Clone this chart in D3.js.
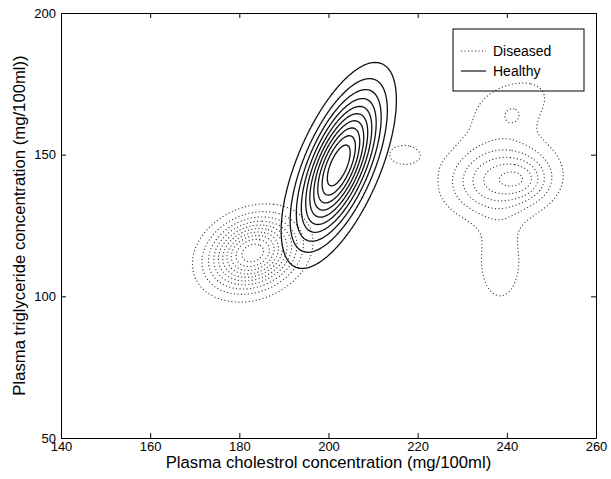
<!DOCTYPE html>
<html>
<head>
<meta charset="utf-8">
<script src="https://cdn.jsdelivr.net/npm/d3@7"></script>
<style>
  html, body { margin: 0; padding: 0; background: #fff; }
  svg { display: block; font-family: "Liberation Sans", Arial, Helvetica, sans-serif; }
</style>
</head>
<body>
<svg id="chart" width="611" height="479"></svg>
<script>
// Axis ranges and tick labels
const xDomain = [140, 260];
const yDomain = [50, 200];
const xTicks = [140, 160, 180, 200, 220, 240, 260];
const yTicks = [50, 100, 150, 200];

// Healthy class: a single correlated Gaussian density
const healthyMean = [202.3, 146.2];
const healthySd = [5.9, 16.6];
const healthyCorr = 0.635;
const healthyPeak = 11;

// Diseased class: Gaussian mixture components
const diseasedMeanX = [183.0, 238.5, 244.0, 241.0, 241.5, 238.5, 216.7];
const diseasedMeanY = [115.3, 141.5, 141.0, 167.5, 163.5, 112.0, 150.0];
const diseasedSdX   = [6.2, 7.5, 3.5, 8.5, 2.5, 4.0, 4.0];
const diseasedSdY   = [7.95, 8.5, 4.5, 9.0, 3.5, 11.5, 4.2];
const diseasedCorr  = [0.22, 0.1, 0.0, 0.35, 0.0, 0.0, 0.0];
const diseasedPeak  = [10.8, 5.5, 1.6, 1.45, 0.67, 1.7, 1.3];

// Density levels traced as contour lines
const contourLevels = [1, 2, 3, 4, 5, 6, 7, 8, 9, 10];

const legendLabels = ["Diseased", "Healthy"];

const svg = d3.select("#chart");
const x = d3.scaleLinear().domain(xDomain).range([61, 596]);
const y = d3.scaleLinear().domain(yDomain).range([438, 13]);

// Evaluate a bivariate Gaussian bump scaled to a given peak height
function bump(px, py, mx, my, sx, sy, r, peak) {
  const dx = (px - mx) / sx, dy = (py - my) / sy;
  const q = (dx * dx - 2 * r * dx * dy + dy * dy) / (1 - r * r);
  return peak * Math.exp(-0.5 * q);
}

const step = 0.5;
const nx = Math.round((xDomain[1] - xDomain[0]) / step) + 1;
const ny = Math.round((yDomain[1] - yDomain[0]) / step) + 1;

function grid(fn) {
  const v = new Float64Array(nx * ny);
  for (let j = 0; j < ny; j++) {
    const py = yDomain[0] + j * step;
    for (let i = 0; i < nx; i++) {
      v[i + j * nx] = fn(xDomain[0] + i * step, py);
    }
  }
  return v;
}

const healthyGrid = grid((px, py) =>
  bump(px, py, healthyMean[0], healthyMean[1], healthySd[0], healthySd[1], healthyCorr, healthyPeak));

const diseasedGrid = grid((px, py) => {
  let s = 0;
  for (let k = 0; k < diseasedPeak.length; k++) {
    s += bump(px, py, diseasedMeanX[k], diseasedMeanY[k], diseasedSdX[k], diseasedSdY[k], diseasedCorr[k], diseasedPeak[k]);
  }
  return s;
});

const contourGen = d3.contours().size([nx, ny]).thresholds(contourLevels);

// Map grid coordinates to data values, then through the scales
const proj = d3.geoTransform({
  point: function (gx, gy) {
    this.stream.point(x(xDomain[0] + (gx - 0.5) * step), y(yDomain[0] + (gy - 0.5) * step));
  }
});
const path = d3.geoPath(proj);

const plot = svg.append("g");

plot.append("g")
  .selectAll("path")
  .data(contourGen(diseasedGrid))
  .join("path")
  .attr("d", path)
  .attr("fill", "none")
  .attr("stroke", "#333")
  .attr("stroke-width", 1.1)
  .attr("stroke-dasharray", "1.1 2.4");

plot.append("g")
  .selectAll("path")
  .data(contourGen(healthyGrid))
  .join("path")
  .attr("d", path)
  .attr("fill", "none")
  .attr("stroke", "#111")
  .attr("stroke-width", 1.3)
  .attr("stroke-linejoin", "round");

// Boxed axes with inward ticks
const fontSize = 13;
function styleAxis(g) {
  g.selectAll("text").attr("font-size", fontSize).attr("fill", "#000")
    .attr("font-family", "Liberation Sans, Arial, sans-serif");
  g.selectAll("line, path").attr("stroke", "#000");
}

svg.append("g")
  .attr("transform", `translate(0,${y(yDomain[0])})`)
  .call(d3.axisBottom(x).tickValues(xTicks).tickSizeInner(-5).tickSizeOuter(0).tickPadding(4))
  .call(styleAxis);

svg.append("g")
  .attr("transform", `translate(${x(xDomain[0])},0)`)
  .call(d3.axisLeft(y).tickValues(yTicks).tickSizeInner(-5).tickSizeOuter(0).tickPadding(5))
  .call(styleAxis);

svg.append("g")
  .attr("transform", `translate(0,${y(yDomain[1])})`)
  .call(d3.axisTop(x).tickValues(xTicks).tickSizeInner(-5).tickSizeOuter(0).tickFormat(""))
  .call(styleAxis);

svg.append("g")
  .attr("transform", `translate(${x(xDomain[1])},0)`)
  .call(d3.axisRight(y).tickValues(yTicks).tickSizeInner(-5).tickSizeOuter(0).tickFormat(""))
  .call(styleAxis);

// Axis titles
svg.append("text")
  .attr("x", (x(xDomain[0]) + x(xDomain[1])) / 2)
  .attr("y", 468)
  .attr("text-anchor", "middle")
  .attr("font-size", 16.7)
  .text("Plasma cholestrol concentration (mg/100ml)");

svg.append("text")
  .attr("transform", `translate(25,${(y(yDomain[0]) + y(yDomain[1])) / 2}) rotate(-90)`)
  .attr("text-anchor", "middle")
  .attr("font-size", 16.7)
  .text("Plasma triglyceride concentration (mg/100ml))");

// Legend (transparent box drawn over the plot)
const legend = svg.append("g").attr("transform", "translate(453,29)");
legend.append("rect")
  .attr("width", 131).attr("height", 62)
  .attr("fill", "none").attr("stroke", "#000").attr("stroke-width", 1);

const legendRows = legend.selectAll("g.row")
  .data(legendLabels)
  .join("g")
  .attr("class", "row")
  .attr("transform", (d, i) => `translate(0,${22 + i * 20})`);

legendRows.append("line")
  .attr("x1", 8).attr("x2", 33).attr("y1", 0).attr("y2", 0)
  .attr("stroke", (d, i) => i === 0 ? "#333" : "#111")
  .attr("stroke-width", (d, i) => i === 0 ? 1.1 : 1.2)
  .attr("stroke-dasharray", (d, i) => i === 0 ? "1.1 2.4" : null);

legendRows.append("text")
  .attr("x", 40)
  .attr("y", 5)
  .attr("font-size", 14)
  .text(d => d);
</script>
</body>
</html>
